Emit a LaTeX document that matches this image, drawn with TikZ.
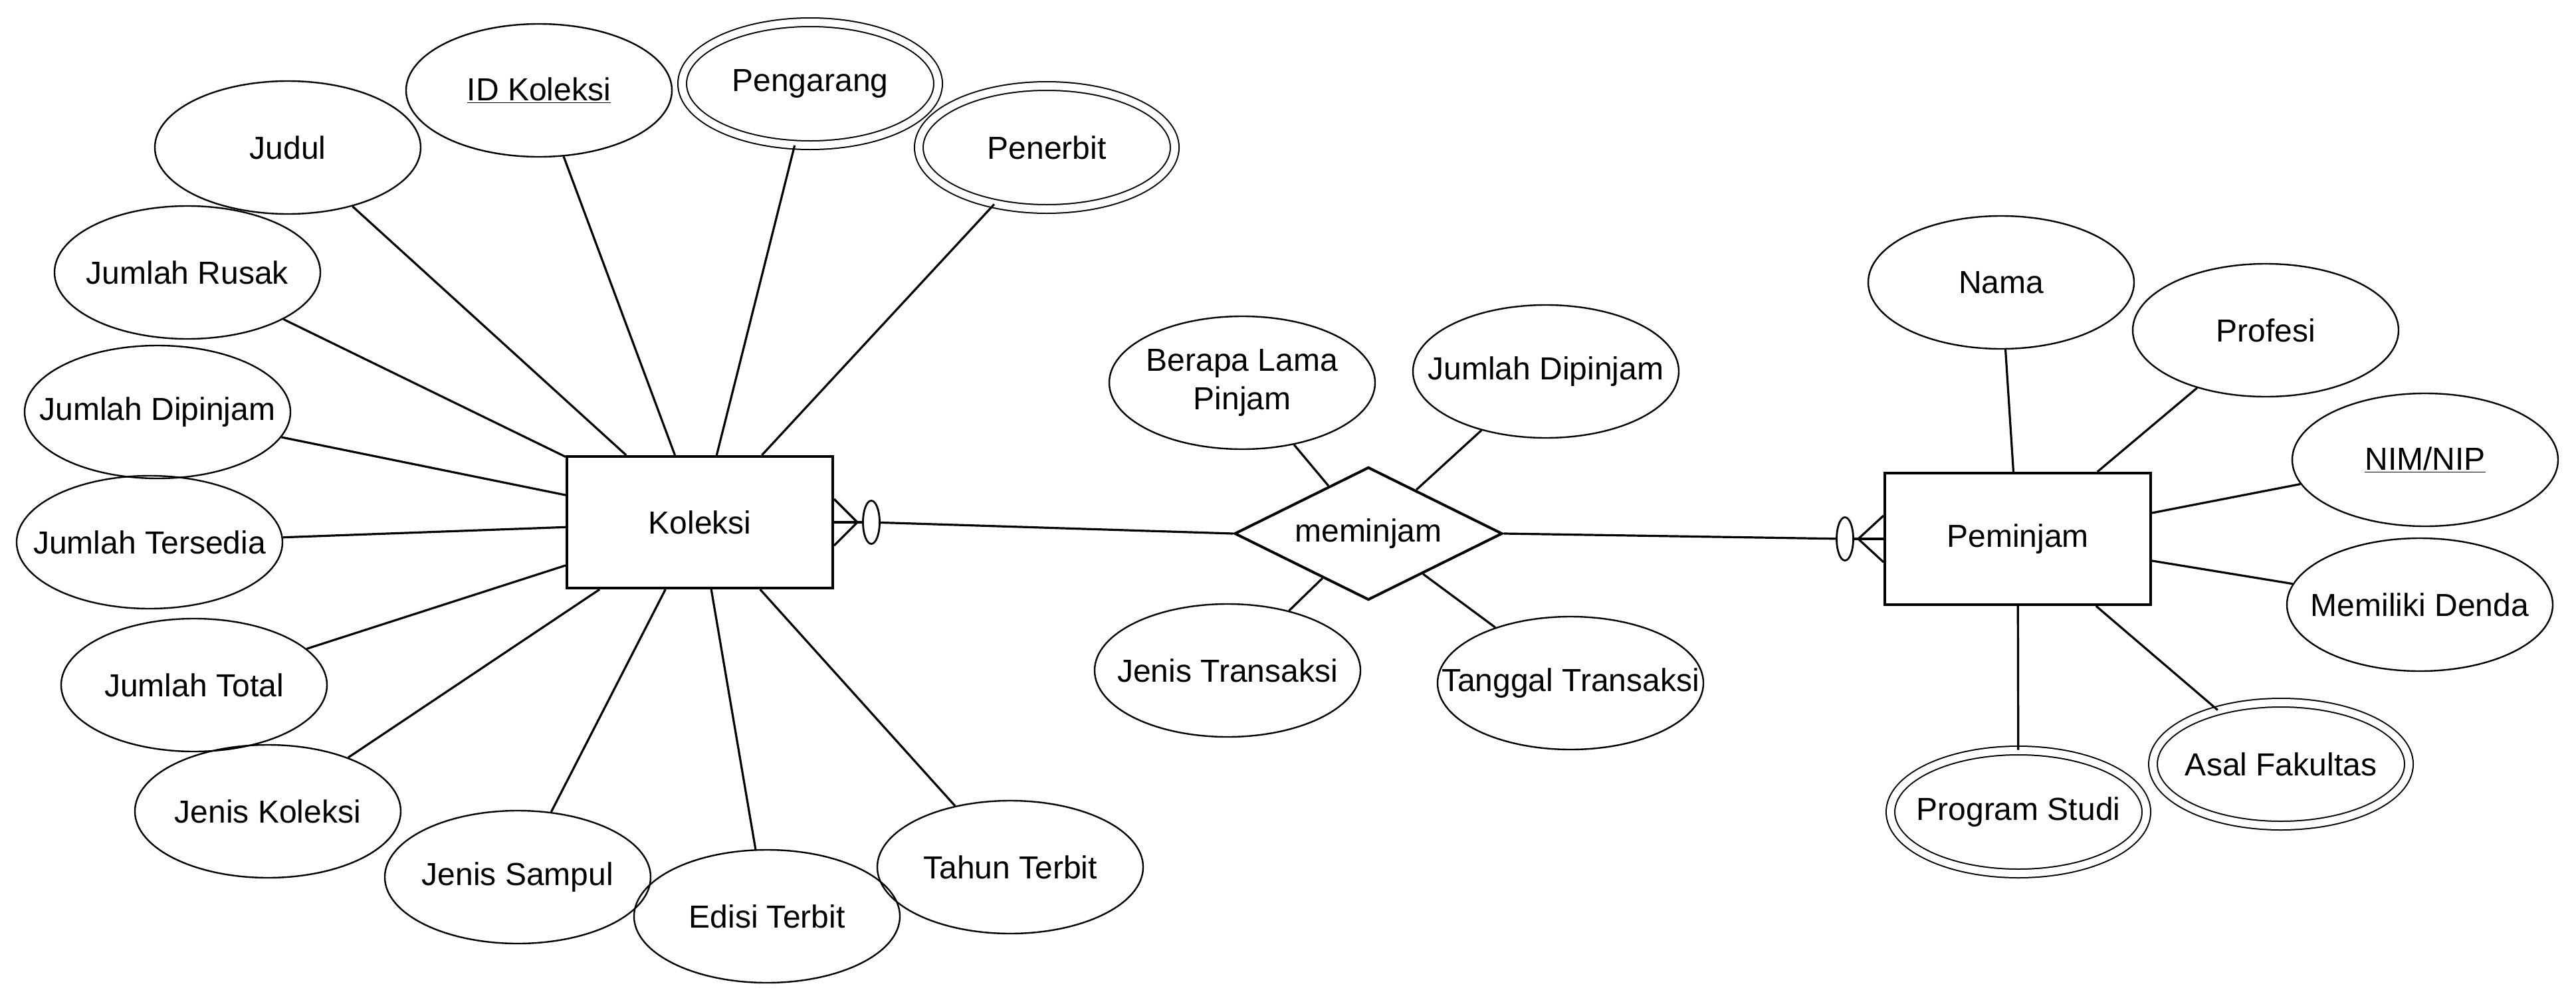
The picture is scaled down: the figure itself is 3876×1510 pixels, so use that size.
\documentclass[tikz,border=0pt]{standalone}
\usepackage{fontspec}
\setmainfont{Liberation Sans}
\usetikzlibrary{shapes.geometric,calc}
\newcommand{\ztext}[1]{\makebox[0pt]{#1}}
\tikzset{
  attr/.style={ellipse,draw,line width=1.2pt,minimum width=200pt,minimum height=100pt,inner sep=0pt,font=\fontsize{24}{29}\selectfont},
  mattr/.style={attr,double,line width=1pt,double distance=5.5pt,minimum width=192.5pt,minimum height=92.5pt},
  ent/.style={rectangle,draw,line width=2pt,minimum width=200pt,minimum height=99pt,inner sep=0pt,font=\fontsize{24}{29}\selectfont},
  rel/.style={diamond,draw,line width=2pt,minimum width=201.5pt,minimum height=100pt,inner sep=0pt,font=\fontsize{24}{29}\selectfont},
  conn/.style={line width=1.6pt},
  oval/.style={ellipse,draw,line width=1.4pt,fill=white,minimum width=12.5pt,minimum height=32.5pt,inner sep=0pt}
}
\begin{document}
\begin{tikzpicture}[x=0.5pt,y=-0.5pt]
\useasboundingbox (0,0) rectangle (3876,1510);
% entities and relation
\node[ent] (K) at (1053,786) {Koleksi};
\node[ent] (P) at (3036,811) {Peminjam};
\node[rel] (D) at (2059,803) {\ztext{meminjam}};
% Koleksi attributes
\node[attr] (judul) at (433,222) {\ztext{Judul}};
\node[attr] (idk) at (811,136) {\ztext{\underline{ID Koleksi}}};
\node[mattr] (peng) at (1219,126) {\ztext{Pengarang}};
\node[mattr] (pen) at (1575,222) {\ztext{Penerbit}};
\node[attr] (jr) at (282,410) {\ztext{Jumlah Rusak}};
\node[attr] (jd) at (237,620) {\ztext{Jumlah Dipinjam}};
\node[attr] (jt) at (225,816) {\ztext{Jumlah Tersedia}};
\node[attr] (jtot) at (292,1031) {\ztext{Jumlah Total}};
\node[attr] (jk) at (403,1221) {\ztext{Jenis Koleksi}};
\node[attr] (js) at (779,1320) {\ztext{Jenis Sampul}};
\node[attr] (et) at (1154,1379) {\ztext{Edisi Terbit}};
\node[attr] (tt) at (1520,1305) {\ztext{Tahun Terbit}};
% relation attributes
\node[attr] (blp) at (1869,576) {\ztext{\begin{tabular}{@{}c@{}}Berapa Lama\\Pinjam\end{tabular}}};
\node[attr] (jd2) at (2326,559) {\ztext{Jumlah Dipinjam}};
\node[attr] (jtr) at (1847,1009) {\ztext{Jenis Transaksi}};
\node[attr] (ttr) at (2363,1028) {\ztext{Tanggal Transaksi}};
% Peminjam attributes
\node[attr] (nama) at (3011,425) {\ztext{Nama}};
\node[attr] (prof) at (3409,497) {\ztext{Profesi}};
\node[attr] (nim) at (3649,692) {\ztext{\underline{NIM/NIP}}};
\node[attr] (md) at (3641,910) {\ztext{Memiliki Denda}};
\node[mattr] (af) at (3432,1150) {\ztext{Asal Fakultas}};
\node[mattr] (ps) at (3037,1222) {\ztext{Program Studi}};
% attribute connectors
\foreach \a in {judul,idk,peng,pen,jr,jd,jt,jtot,jk,js,et,tt}
  \draw[conn] (\a) -- (K);
\foreach \a in {blp,jd2,jtr,ttr}
  \draw[conn] (\a) -- (D);
\foreach \a in {nama,prof,nim,md,af,ps}
  \draw[conn] (\a) -- (P);
% crow's foot at Koleksi
\draw[conn] ($(K.east)+(0,-35)$) -- ($(K.east)+(35,0)$) -- ($(K.east)+(0,35)$);
\draw[conn] (K.east) -- ($(K.east)+(50,0)$);
\node[oval] (ko) at ($(K.east)+(56,0)$) {};
\draw[conn] (ko) -- (D.west);
% crow's foot at Peminjam
\draw[conn] ($(P.west)+(0,-35)$) -- ($(P.west)+(-38,0)$) -- ($(P.west)+(0,35)$);
\draw[conn] (P.west) -- ($(P.west)+(-50,0)$);
\node[oval] (po) at ($(P.west)+(-58,0)$) {};
\draw[conn] (D.east) -- (po);
\end{tikzpicture}
\end{document}
